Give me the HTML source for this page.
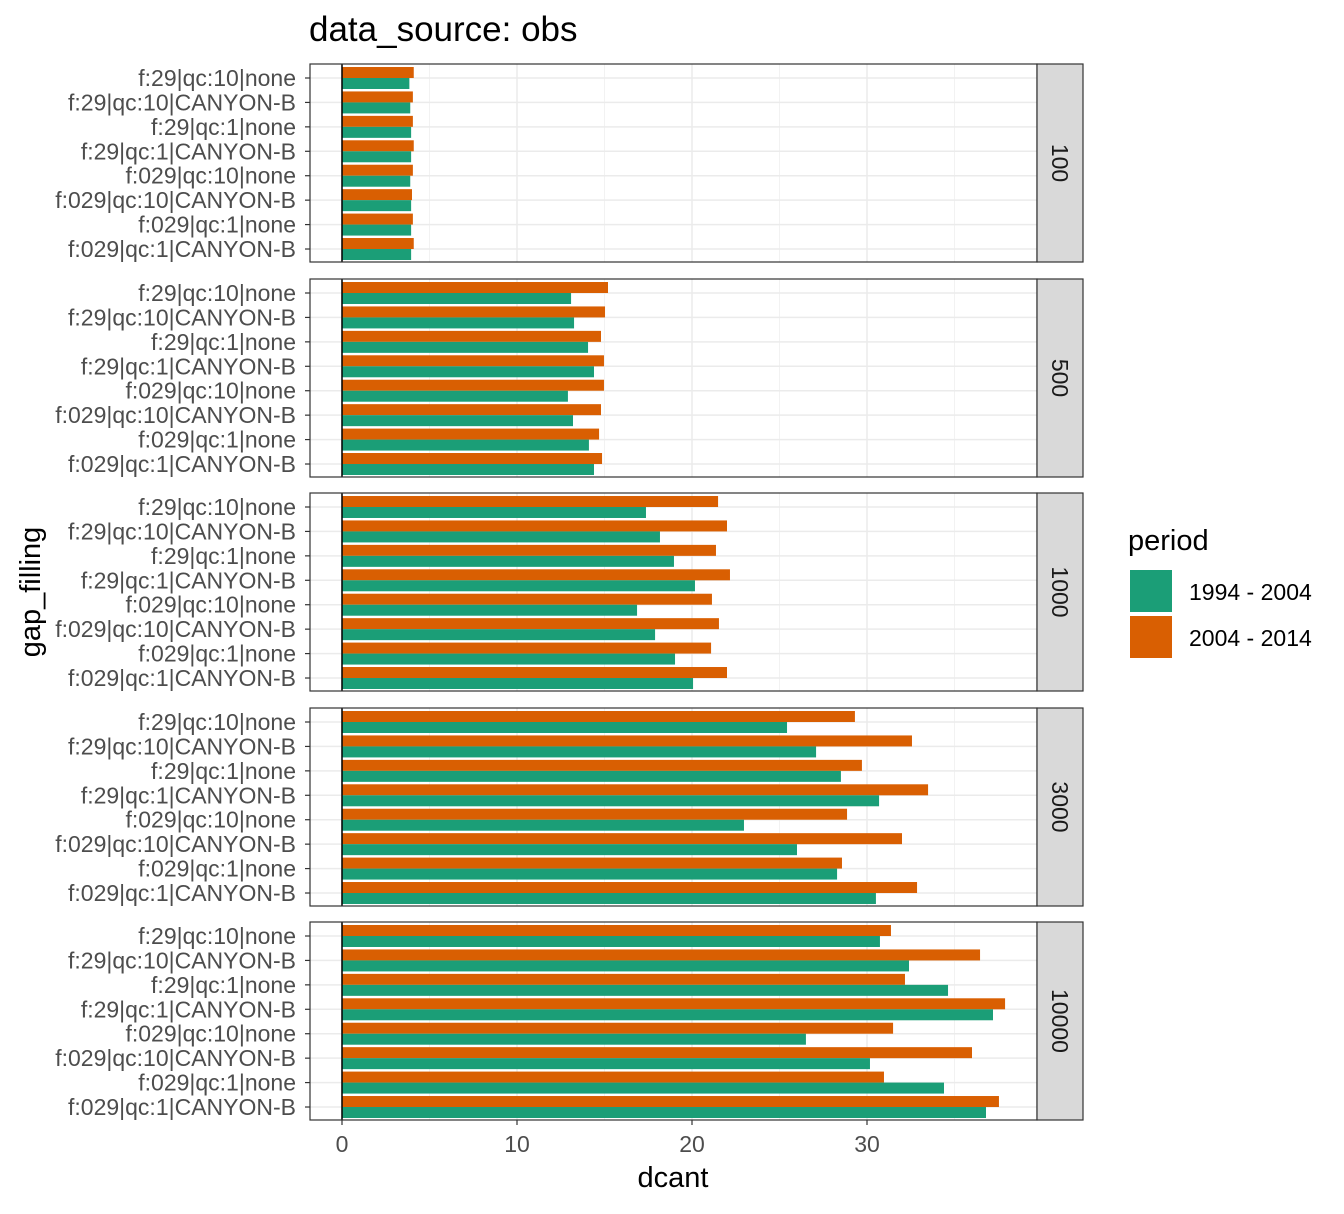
<!DOCTYPE html>
<html><head><meta charset="utf-8"><style>
body{margin:0;background:#fff}
svg{font-family:"Liberation Sans",sans-serif}
</style></head><body>
<svg id="c" width="1344" height="1209"></svg>
<script>
const categories=["f:29|qc:10|none","f:29|qc:10|CANYON-B","f:29|qc:1|none","f:29|qc:1|CANYON-B","f:029|qc:10|none","f:029|qc:10|CANYON-B","f:029|qc:1|none","f:029|qc:1|CANYON-B"];
const panels=["100","500","1000","3000","10000"];
const periods=["1994 - 2004","2004 - 2014"];
const colors=["#1b9e77","#d95f02"];
const green=[
[3.85,3.9,3.95,3.95,3.9,3.95,3.95,3.95],
[13.09,13.26,14.06,14.4,12.91,13.2,14.11,14.4],
[17.37,18.17,18.97,20.17,16.86,17.89,19.03,20.06],
[25.43,27.09,28.51,30.69,22.97,26.0,28.29,30.51],
[30.74,32.4,34.63,37.2,26.51,30.17,34.4,36.8]];
const orange=[
[4.1,4.05,4.05,4.1,4.05,4.0,4.05,4.1],
[15.2,15.03,14.8,14.97,14.97,14.8,14.69,14.86],
[21.49,22.0,21.37,22.17,21.14,21.54,21.09,22.0],
[29.31,32.57,29.71,33.49,28.86,32.0,28.57,32.86],
[31.37,36.46,32.17,37.89,31.49,36.0,30.97,37.54]];
const xTicks=[0,10,20,30];
const xMinor=[5,15,25,35];

const svg=document.getElementById('c');
const NS='http://www.w3.org/2000/svg';
function el(t,a,p){const e=document.createElementNS(NS,t);for(const k in a)e.setAttribute(k,a[k]);(p||svg).appendChild(e);return e;}
const PL=310,PR=1037,PH=198;
const panelTops=[64,279,493,708,922];
const x=v=>342+v*17.5;
const STEP=24.43;
const yCat=(top,i)=>top+14+i*STEP;
const bw=STEP*0.45;

panels.forEach((p,pi)=>{
  const top=panelTops[pi];
  const g=el('g',{});
  
  
  el('rect',{x:PL,y:top,width:PR-PL,height:PH,fill:'#fff'},g);
  xMinor.forEach(v=>el('line',{x1:x(v),x2:x(v),y1:top,y2:top+PH,stroke:'#f2f2f2','stroke-width':1},g));
  xTicks.forEach(v=>el('line',{x1:x(v),x2:x(v),y1:top,y2:top+PH,stroke:'#ebebeb','stroke-width':1.5},g));
  categories.forEach((c,i)=>el('line',{x1:PL,x2:PR,y1:yCat(top,i),y2:yCat(top,i),stroke:'#ebebeb','stroke-width':1.5},g));
  categories.forEach((c,i)=>{
    const yc=yCat(top,i);
    const ro=el('rect',{x:x(0),y:yc-bw,width:x(orange[pi][i])-x(0),height:bw,fill:colors[1]},g);
    
    
    const rg=el('rect',{x:x(0),y:yc,width:x(green[pi][i])-x(0),height:bw,fill:colors[0]},g);
    
    
    el('line',{x1:PL-5,x2:PL,y1:yc,y2:yc,stroke:'#333','stroke-width':1.2},g);
    const t=el('text',{x:PL-14,y:yc+8,'text-anchor':'end','font-size':23,fill:'#4d4d4d'},g);
    t.textContent=c;
    
    
  });
  el('line',{x1:x(0),x2:x(0),y1:top,y2:top+PH,stroke:'#000','stroke-width':1.5},g);
  el('rect',{x:PL,y:top,width:PR-PL,height:PH,fill:'none',stroke:'#333','stroke-width':1.2},g);
  const s=el('rect',{x:PR,y:top,width:46,height:PH,fill:'#d9d9d9',stroke:'#333','stroke-width':1.2},g);
  
  
  const st=el('text',{x:0,y:0,'text-anchor':'middle','font-size':23,fill:'#1a1a1a',transform:`translate(${PR+15},${top+PH/2}) rotate(90)`},g);
  st.textContent=p;
  
  
});
xTicks.forEach(v=>{
  el('line',{x1:x(v),x2:x(v),y1:1120,y2:1125,stroke:'#333','stroke-width':1.2});
  const t=el('text',{x:x(v),y:1152,'text-anchor':'middle','font-size':23,fill:'#4d4d4d'});
  t.textContent=v;
  
  
});
let t=el('text',{x:673,y:1187,'text-anchor':'middle','font-size':29,fill:'#000'});t.textContent='dcant';

t=el('text',{x:0,y:0,'text-anchor':'middle','font-size':29,fill:'#000',transform:'translate(40,592) rotate(-90)'});t.textContent='gap_filling';

t=el('text',{x:309,y:41,'font-size':35,fill:'#000'});t.textContent='data_source: obs';

t=el('text',{x:1128,y:550,'font-size':29,fill:'#000'});t.textContent='period';

periods.forEach((p,i)=>{
  const r=el('rect',{x:1130,y:570+i*46,width:42,height:42,fill:colors[i]});
  
  const lt=el('text',{x:1189,y:600+i*46,'font-size':23,fill:'#000'});lt.textContent=p;
  
});
</script>
</body></html>
